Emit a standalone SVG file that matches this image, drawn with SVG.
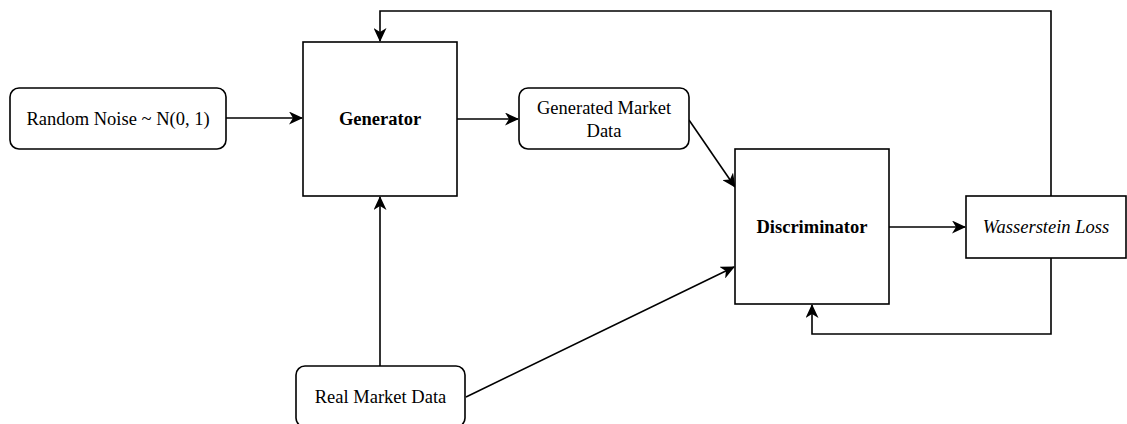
<svg xmlns="http://www.w3.org/2000/svg" width="1127" height="424" viewBox="0 0 1127 424">
<style>
.box{fill:#fff;stroke:#000;stroke-width:1.6}
.t{font-family:"Liberation Serif","Times New Roman",serif;font-size:18.5px;fill:#000;text-anchor:middle;dominant-baseline:central}
.b{font-weight:bold}
.i{font-style:italic}
.c{fill:none;stroke:#000;stroke-width:1.6;marker-end:url(#ah)}
</style>
<defs>
<marker id="ah" viewBox="0 0 14 13" refX="13" refY="6.5" markerWidth="14" markerHeight="13" markerUnits="userSpaceOnUse" orient="auto">
<path d="M0,0 L14,6.5 L0,13 L4,6.5 Z" fill="#000"/>
</marker>
</defs>
<rect width="1127" height="424" fill="#fff"/>
<g id="connectors">
<path class="c" d="M226,118 H302"/>
<path class="c" d="M457,119 H518"/>
<path class="c" d="M689,120 L735,187"/>
<path class="c" d="M466,397 L734,267"/>
<path class="c" d="M380,366 V197"/>
<path class="c" d="M889,227 H965"/>
<path class="c" d="M1051,196 V11 H380 V41"/>
<path class="c" d="M1051,258 V334 H812 V305"/>
</g>
<g id="noise">
<rect class="box" x="10" y="88" width="216" height="61" rx="9"/>
<text class="t" x="118" y="118.5">Random Noise ~ N(0, 1)</text>
</g>
<g id="generator">
<rect class="box" x="303" y="42" width="154" height="154"/>
<text class="t b" x="380" y="119">Generator</text>
</g>
<g id="generated">
<rect class="box" x="519" y="88" width="170" height="61" rx="9"/>
<text class="t" x="604" y="108">Generated Market</text>
<text class="t" x="604" y="131">Data</text>
</g>
<g id="discriminator">
<rect class="box" x="735" y="149" width="154" height="155"/>
<text class="t b" x="812" y="227">Discriminator</text>
</g>
<g id="loss">
<rect class="box" x="966" y="196" width="160" height="62"/>
<text class="t i" x="1046" y="227">Wasserstein Loss</text>
</g>
<g id="real">
<rect class="box" x="296" y="366" width="169" height="61" rx="9"/>
<text class="t" x="380.5" y="397">Real Market Data</text>
</g>
</svg>
